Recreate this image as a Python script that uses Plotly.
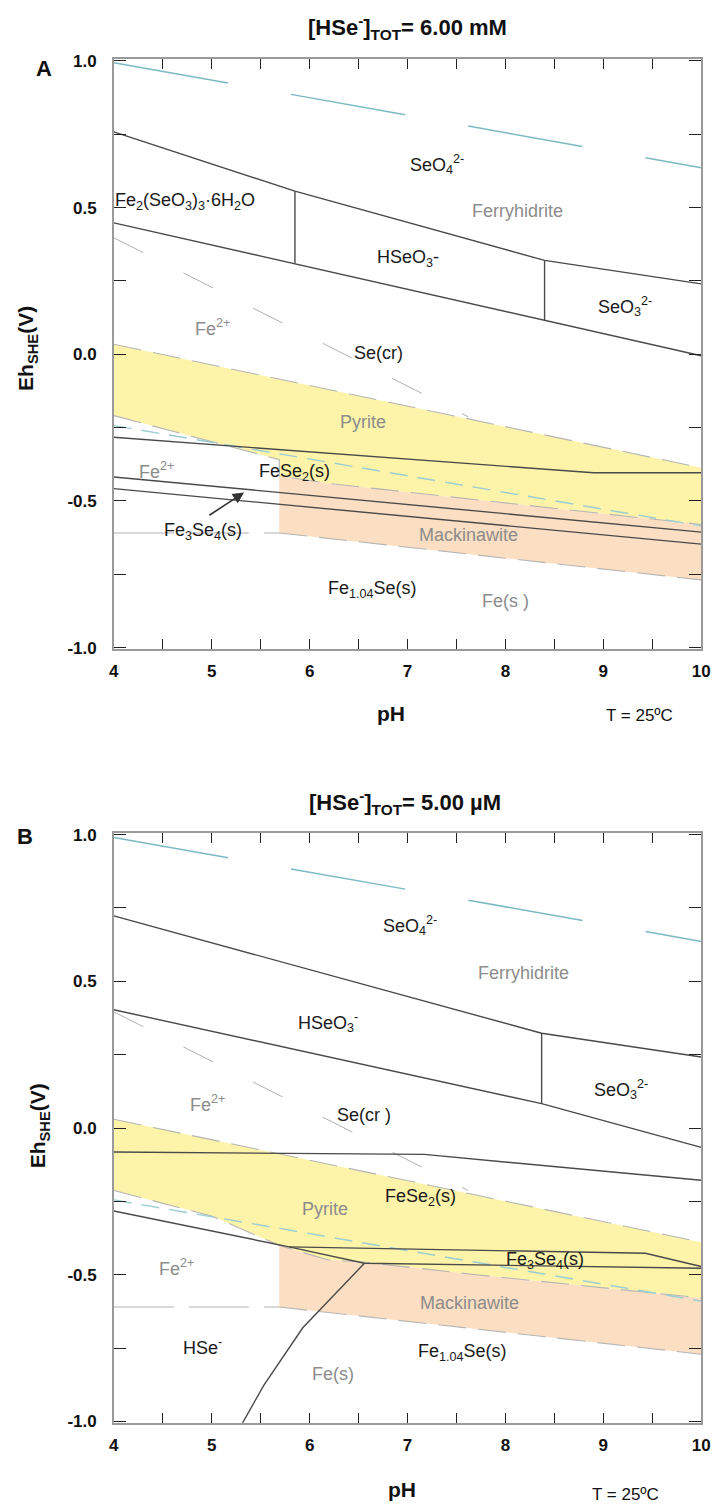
import plotly.graph_objects as go

# ---------------- data (pH, Eh in V) ----------------
# Panel A : [HSe-]TOT = 6.00 mM
A_water_ox_ph = [4, 10]
A_water_ox_eh = [0.994, 0.636]
A_water_red_ph = [4, 10]
A_water_red_eh = [-0.243, -0.585]
A_se_upper_ph = [4, 5.85, 8.4, 10]
A_se_upper_eh = [0.758, 0.556, 0.32, 0.24]
A_se_lower_ph = [4, 10]
A_se_lower_eh = [0.448, -0.005]
A_div1_ph = [5.85, 5.85]
A_div1_eh = [0.31, 0.556]
A_div2_ph = [8.4, 8.4]
A_div2_eh = [0.117, 0.32]
A_fese2_ph = [4, 8.9, 10]
A_fese2_eh = [-0.283, -0.404, -0.404]
A_fe3se4_hi_ph = [4, 10]
A_fe3se4_hi_eh = [-0.418, -0.606]
A_fe3se4_lo_ph = [4, 10]
A_fe3se4_lo_eh = [-0.458, -0.647]
A_pyr_top_ph = [4, 10]
A_pyr_top_eh = [0.034, -0.387]
A_pyr_bot_ph = [4, 5.69, 5.69, 6.19, 10]
A_pyr_bot_eh = [-0.209, -0.359, -0.414, -0.44, -0.58]
A_mack_top_ph = [5.69, 6.19, 10]
A_mack_top_eh = [-0.414, -0.44, -0.58]
A_mack_bot_ph = [5.69, 10]
A_mack_bot_eh = [-0.609, -0.769]
A_fe_ferri_ph = [4, 7.62]
A_fe_ferri_eh = [0.397, -0.213]
A_fe_fes_ph = [4, 5.69]
A_fe_fes_eh = [-0.609, -0.609]
A_arrow_tail = [4.96, -0.552]
A_arrow_head = [5.33, -0.471]

A_label_text = ["SeO<sub>4</sub><sup>2-</sup>", "Ferryhidrite",
                "Fe<sub>2</sub>(SeO<sub>3</sub>)<sub>3</sub>·6H<sub>2</sub>O",
                "HSeO<sub>3</sub>-", "SeO<sub>3</sub><sup>2-</sup>", "Fe<sup>2+</sup>",
                "Se(cr)", "Pyrite", "Fe<sup>2+</sup>", "FeSe<sub>2</sub>(s)",
                "Fe<sub>3</sub>Se<sub>4</sub>(s)", "Mackinawite",
                "Fe<sub>1.04</sub>Se(s)", "Fe(s )"]
A_label_ph = [7.30, 8.12, 4.73, 7.00, 9.22, 5.01, 6.70, 6.55, 4.44, 5.85, 4.91, 7.62, 6.64, 8.00]
A_label_eh = [0.646, 0.488, 0.522, 0.327, 0.162, 0.091, 0.003, -0.232, -0.397, -0.404,
              -0.603, -0.616, -0.801, -0.842]
A_label_gray = [False, True, False, False, False, True, False, True, True, False,
                False, True, False, True]

# Panel B : [HSe-]TOT = 5.00 uM
B_water_ox_ph = [4, 10]
B_water_ox_eh = [0.99, 0.636]
B_water_red_ph = [4, 10]
B_water_red_eh = [-0.245, -0.59]
B_se_upper_ph = [4, 8.37, 10]
B_se_upper_eh = [0.723, 0.323, 0.242]
B_se_lower_ph = [4, 8.37, 10]
B_se_lower_eh = [0.403, 0.083, -0.066]
B_div_ph = [8.37, 8.37]
B_div_eh = [0.083, 0.323]
B_fese2_ph = [4, 7.17, 10]
B_fese2_eh = [-0.082, -0.09, -0.178]
B_l1_ph = [4, 5.79, 6.56, 10]
B_l1_eh = [-0.283, -0.405, -0.461, -0.478]
B_l2_ph = [5.79, 9.43, 10]
B_l2_eh = [-0.405, -0.427, -0.472]
B_curve_ph = [5.29, 5.53, 5.93, 6.06, 6.56]
B_curve_eh = [-1.02, -0.878, -0.681, -0.635, -0.461]
B_pyr_top_ph = [4, 10]
B_pyr_top_eh = [0.03, -0.389]
B_pyr_bot_ph = [4, 5.0, 5.69, 5.79, 6.19, 6.52, 7.7, 10]
B_pyr_bot_eh = [-0.213, -0.30, -0.40, -0.41, -0.45, -0.456, -0.50, -0.579]
B_mack_top_ph = [5.69, 5.79, 6.19, 6.52, 7.7, 10]
B_mack_top_eh = [-0.40, -0.41, -0.45, -0.456, -0.50, -0.579]
B_mack_bot_ph = [5.69, 10]
B_mack_bot_eh = [-0.61, -0.771]
B_fe_ferri_ph = [4, 7.62]
B_fe_ferri_eh = [0.396, -0.213]
B_fe_fes_ph = [4, 5.69]
B_fe_fes_eh = [-0.61, -0.61]

B_label_text = ["SeO<sub>4</sub><sup>2-</sup>", "Ferryhidrite",
                "HSeO<sub>3</sub><sup>-</sup>", "SeO<sub>3</sub><sup>2-</sup>",
                "Fe<sup>2+</sup>", "Se(cr )", "Pyrite", "FeSe<sub>2</sub>(s)",
                "Fe<sub>3</sub>Se<sub>4</sub>(s)", "Fe<sup>2+</sup>", "Mackinawite",
                "HSe<sup>-</sup>", "Fe(s)", "Fe<sub>1.04</sub>Se(s)"]
B_label_ph = [7.03, 8.18, 6.19, 9.18, 4.96, 6.56, 6.16, 7.13, 8.40, 4.64, 7.63, 4.91, 6.24, 7.56]
B_label_eh = [0.690, 0.528, 0.359, 0.130, 0.083, 0.046, -0.275, -0.238, -0.450, -0.477,
              -0.595, -0.744, -0.838, -0.764]
B_label_gray = [False, True, False, False, True, False, True, False, False, True,
                True, False, True, False]

x_ticks = [4, 5, 6, 7, 8, 9, 10]
x_tick_text = ["4", "5", "6", "7", "8", "9", "10"]
y_ticks = [-1.0, -0.5, 0.0, 0.5, 1.0]
y_tick_text = ["-1.0", "-0.5", "0.0", "0.5", "1.0"]

# ---------------- styling ----------------
W, H = 720, 1512
FONT = "Liberation Sans"
BLACK_LINE = "#4a4a4a"
GRAY_DASH = "#b5b5b5"
TEAL = "#7bbac2"
TEAL_LIGHT = "#9ccdd2"
YELLOW = "#fdf4aa"
ORANGE = "#fcdec2"
TXT = "#1a1a1a"
TXT_GRAY = "#8c8c8c"


def px(x, y):
    return x / W, 1 - y / H


fig = go.Figure()


def line(ph, eh, xa, ya, color, width=1.4, dash="solid"):
    fig.add_trace(go.Scatter(x=ph, y=eh, xaxis=xa, yaxis=ya, mode="lines",
                             line=dict(color=color, width=width, dash=dash),
                             hoverinfo="skip", showlegend=False))


def fill(top_ph, top_eh, bot_ph, bot_eh, xa, ya, color):
    xs = list(top_ph) + list(bot_ph)[::-1]
    ys = list(top_eh) + list(bot_eh)[::-1]
    fig.add_trace(go.Scatter(x=xs, y=ys, xaxis=xa, yaxis=ya, mode="lines",
                             fill="toself", fillcolor=color, line=dict(width=0, color=color),
                             hoverinfo="skip", showlegend=False))


def panel(P, xa, ya, xref, yref):
    fill(P["pyr_top_ph"], P["pyr_top_eh"], P["pyr_bot_ph"], P["pyr_bot_eh"], xa, ya, YELLOW)
    fill(P["mack_top_ph"], P["mack_top_eh"], P["mack_bot_ph"], P["mack_bot_eh"], xa, ya, ORANGE)
    d = "28px,12px"
    line(P["pyr_top_ph"], P["pyr_top_eh"], xa, ya, GRAY_DASH, 1.1, d)
    line(P["pyr_bot_ph"], P["pyr_bot_eh"], xa, ya, GRAY_DASH, 1.1, d)
    line(P["mack_bot_ph"], P["mack_bot_eh"], xa, ya, GRAY_DASH, 1.1, d)
    line(P["fe_ferri_ph"], P["fe_ferri_eh"], xa, ya, "#b0b0b0", 1.0, "33px,45px")
    line(P["fe_fes_ph"], P["fe_fes_eh"], xa, ya, "#b0b0b0", 1.1, "60px,15px")
    line(P["water_ox_ph"], P["water_ox_eh"], xa, ya, TEAL, 1.5, "116px,64px")
    line(P["water_red_ph"], P["water_red_eh"], xa, ya, TEAL_LIGHT, 1.4, "18px,10px")
    for a, b in P["solid"]:
        line(a, b, xa, ya, BLACK_LINE, 1.4)
    for t, x, y, g in zip(P["lab_t"], P["lab_x"], P["lab_y"], P["lab_g"]):
        fig.add_annotation(x=x, y=y, xref=xref, yref=yref, text=t, showarrow=False,
                           xanchor="center", yanchor="middle",
                           font=dict(family=FONT, size=18, color=TXT_GRAY if g else TXT))


PA = dict(pyr_top_ph=A_pyr_top_ph, pyr_top_eh=A_pyr_top_eh,
          pyr_bot_ph=A_pyr_bot_ph, pyr_bot_eh=A_pyr_bot_eh,
          mack_top_ph=A_mack_top_ph, mack_top_eh=A_mack_top_eh,
          mack_bot_ph=A_mack_bot_ph, mack_bot_eh=A_mack_bot_eh,
          fe_ferri_ph=A_fe_ferri_ph, fe_ferri_eh=A_fe_ferri_eh,
          fe_fes_ph=A_fe_fes_ph, fe_fes_eh=A_fe_fes_eh,
          water_ox_ph=A_water_ox_ph, water_ox_eh=A_water_ox_eh,
          water_red_ph=A_water_red_ph, water_red_eh=A_water_red_eh,
          solid=[(A_se_upper_ph, A_se_upper_eh), (A_se_lower_ph, A_se_lower_eh),
                 (A_div1_ph, A_div1_eh), (A_div2_ph, A_div2_eh),
                 (A_fese2_ph, A_fese2_eh), (A_fe3se4_hi_ph, A_fe3se4_hi_eh),
                 (A_fe3se4_lo_ph, A_fe3se4_lo_eh)],
          lab_t=A_label_text, lab_x=A_label_ph, lab_y=A_label_eh, lab_g=A_label_gray)

PB = dict(pyr_top_ph=B_pyr_top_ph, pyr_top_eh=B_pyr_top_eh,
          pyr_bot_ph=B_pyr_bot_ph, pyr_bot_eh=B_pyr_bot_eh,
          mack_top_ph=B_mack_top_ph, mack_top_eh=B_mack_top_eh,
          mack_bot_ph=B_mack_bot_ph, mack_bot_eh=B_mack_bot_eh,
          fe_ferri_ph=B_fe_ferri_ph, fe_ferri_eh=B_fe_ferri_eh,
          fe_fes_ph=B_fe_fes_ph, fe_fes_eh=B_fe_fes_eh,
          water_ox_ph=B_water_ox_ph, water_ox_eh=B_water_ox_eh,
          water_red_ph=B_water_red_ph, water_red_eh=B_water_red_eh,
          solid=[(B_se_upper_ph, B_se_upper_eh), (B_se_lower_ph, B_se_lower_eh),
                 (B_div_ph, B_div_eh), (B_fese2_ph, B_fese2_eh),
                 (B_l1_ph, B_l1_eh), (B_l2_ph, B_l2_eh), (B_curve_ph, B_curve_eh)],
          lab_t=B_label_text, lab_x=B_label_ph, lab_y=B_label_eh, lab_g=B_label_gray)

panel(PA, "x", "y", "x", "y")
panel(PB, "x2", "y2", "x2", "y2")

# arrow in panel A
fig.add_annotation(x=A_arrow_head[0], y=A_arrow_head[1], ax=A_arrow_tail[0], ay=A_arrow_tail[1],
                   xref="x", yref="y", axref="x", ayref="y", text="", showarrow=True,
                   arrowhead=2, arrowsize=1.4, arrowwidth=1.6, arrowcolor="#333333")

# ---------------- axes ----------------
TICKFONT = dict(family=FONT, size=17, color="#111111", weight="bold")


def xaxis_cfg(anchor):
    return dict(range=[4, 10], domain=[111 / W, 710 / W], anchor=anchor,
                tickmode="array", tickvals=x_ticks, ticktext=x_tick_text,
                ticks="inside", ticklen=10, tickwidth=1.2, tickcolor="#222222",
                minor=dict(dtick=0.5, tick0=4, ticks="inside", ticklen=10, tickwidth=1.2,
                           tickcolor="#222222", showgrid=False),
                showline=True, linecolor="#9a9a9a", linewidth=1.5, mirror="allticks",
                showgrid=False, zeroline=False, ticklabelstandoff=6, tickfont=TICKFONT)


def yaxis_cfg(anchor, top_px, bottom_px):
    return dict(range=[-1.005, 1.005], domain=[1 - bottom_px / H, 1 - top_px / H],
                anchor=anchor, tickmode="array", tickvals=y_ticks, ticktext=y_tick_text,
                ticks="inside", ticklen=12, tickwidth=1.2, tickcolor="#222222",
                minor=dict(dtick=0.25, tick0=0, ticks="inside", ticklen=12, tickwidth=1.2,
                           tickcolor="#222222", showgrid=False),
                showline=True, linecolor="#9a9a9a", linewidth=1.5, mirror="allticks",
                showgrid=False, zeroline=False, ticklabelstandoff=12, tickfont=TICKFONT)


fig.update_layout(width=W, height=H, margin=dict(l=0, r=0, t=0, b=0),
                  paper_bgcolor="white", plot_bgcolor="white",
                  xaxis=xaxis_cfg("y"), yaxis=yaxis_cfg("x", 52, 648),
                  xaxis2=xaxis_cfg("y2"), yaxis2=yaxis_cfg("x2", 834, 1430),
                  showlegend=False)

# ---------------- titles and labels ----------------
def ptext(x, y, text, size, bold=False, angle=0, color="#111111", xanchor="center"):
    xx, yy = px(x, y)
    fig.add_annotation(x=xx, y=yy, xref="paper", yref="paper", text=text, showarrow=False,
                       xanchor=xanchor, yanchor="middle", textangle=angle,
                       font=dict(family=FONT, size=size, color=color,
                                 weight="bold" if bold else "normal"))


ptext(410, 20, "[HSe<sup>-</sup>]<sub>TOT</sub>= 6.00 mM", 22, bold=True)
ptext(408, 803, "[HSe<sup>-</sup>]<sub>TOT</sub>= 5.00 µM", 22, bold=True)
ptext(40, 61, "A", 22, bold=True)
ptext(20, 837, "B", 22, bold=True)
ptext(23, 344, "Eh<sub>SHE</sub>(V)", 21, bold=True, angle=-90)
ptext(35, 1130, "Eh<sub>SHE</sub>(V)", 21, bold=True, angle=-90)
ptext(394, 713, "pH", 21, bold=True)
ptext(405, 1497, "pH", 21, bold=True)
ptext(647, 715, "T = 25ºC", 17)
ptext(633, 1502, "T = 25ºC", 17)

fig.write_html("out.html")
